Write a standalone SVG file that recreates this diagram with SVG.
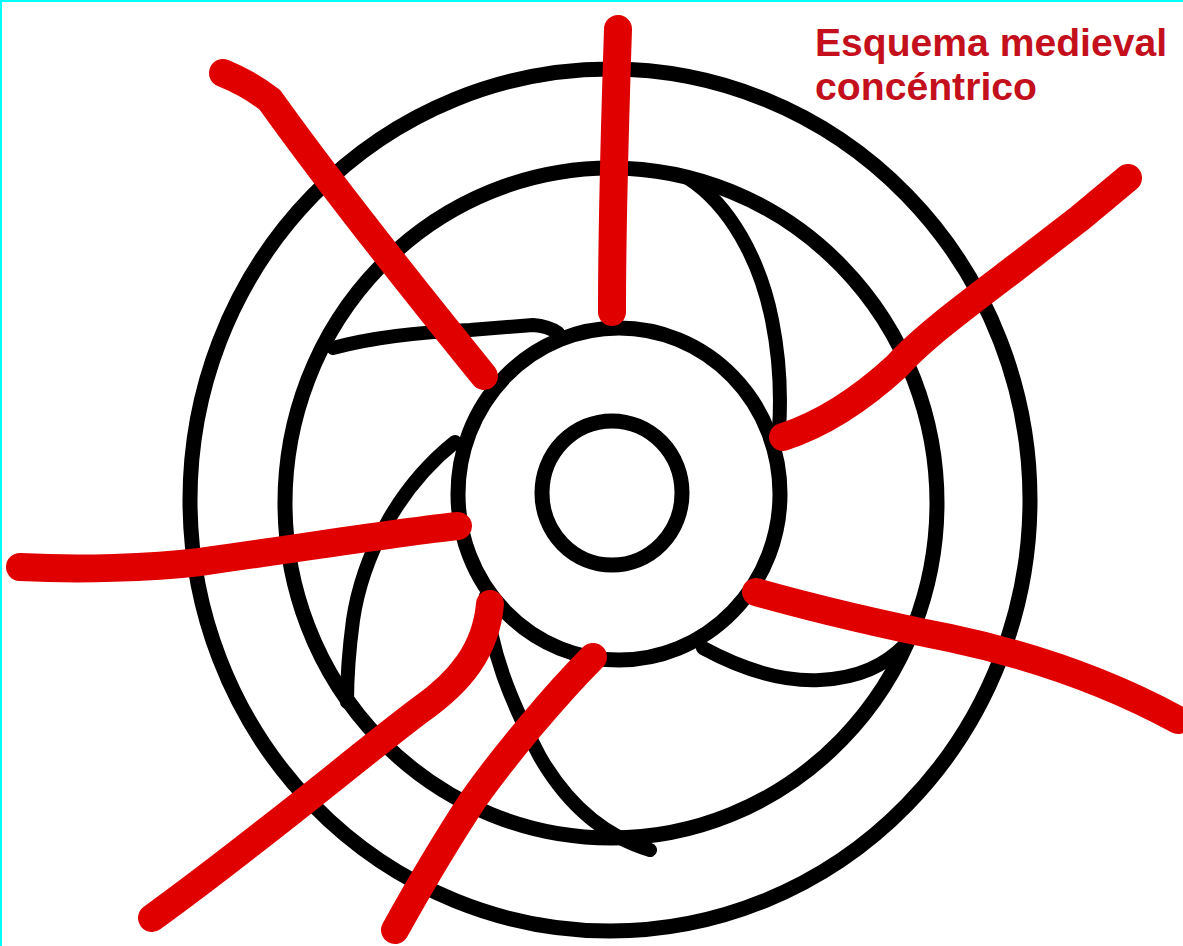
<svg xmlns="http://www.w3.org/2000/svg" width="1183" height="946" viewBox="0 0 1183 946">
<style>
.ring{fill:none;stroke:#000;stroke-width:15}
.blade{fill:none;stroke:#000;stroke-width:14;stroke-linecap:round;stroke-linejoin:round}
.ray{fill:none;stroke:#e10000;stroke-width:28;stroke-linecap:round;stroke-linejoin:round}
.title{font-family:"Liberation Sans",Arial,sans-serif;font-weight:bold;font-size:38px;fill:#c4101c}
</style>
<rect x="0" y="0" width="1183" height="946" fill="#fff"/>
<rect x="0" y="0" width="1183" height="2" fill="#00ffff"/>
<rect x="0" y="0" width="2" height="946" fill="#00ffff"/>
<g id="outer-ring"><ellipse class="ring" cx="610" cy="500" rx="420" ry="431"/></g>
<g id="middle-ring"><ellipse class="ring" cx="611" cy="503" rx="326" ry="335"/></g>
<g id="hub"><ellipse class="ring" cx="619" cy="494" rx="161" ry="166"/></g>
<g id="core"><ellipse class="ring" cx="612" cy="493" rx="70" ry="72"/></g>
<g id="blades">
<path class="blade" d="M333,348 C370,338 420,332 470,330 L533,325 Q548,326 558,333"/>
<path class="blade" d="M455,442 C395,490 362,560 353,620 C349,650 347,680 347,702"/>
<path class="blade" d="M486,596 C490,650 510,700 540,757 C565,800 600,835 650,850"/>
<path class="blade" d="M703,648 C740,668 780,682 820,680 C860,678 885,665 905,645"/>
<path class="blade" d="M688,178 C730,205 760,260 772,320 C780,360 781,400 779,430"/>
</g>
<g id="connectors">
<path class="ray" d="M618,29 C615,120 612,220 612,312"/>
<path class="ray" d="M223,73 C245,82 260,92 270,100 C320,170 390,260 484,376"/>
<path class="ray" stroke-width="26" d="M783,437 C820,425 860,400 897,366 C920,340 960,310 1010,272 L1080,218 L1128,178"/>
<path class="ray" d="M20,567 C80,570 150,568 200,562 C300,548 400,532 458,526"/>
<path class="ray" stroke-width="26" d="M756,592 C820,610 880,624 950,638 C1030,655 1110,683 1178,720"/>
<path class="ray" stroke-width="22" d="M490,604 C486,650 460,682 420,710 C360,755 260,840 152,918"/>
<path class="ray" d="M593,657 C555,695 505,755 473,800 C450,835 420,885 395,930"/>
</g>
<g id="title">
<text class="title" x="815" y="56" textLength="352" lengthAdjust="spacingAndGlyphs">Esquema medieval</text>
<text class="title" x="815" y="100" textLength="222" lengthAdjust="spacingAndGlyphs">concéntrico</text>
</g>
</svg>
